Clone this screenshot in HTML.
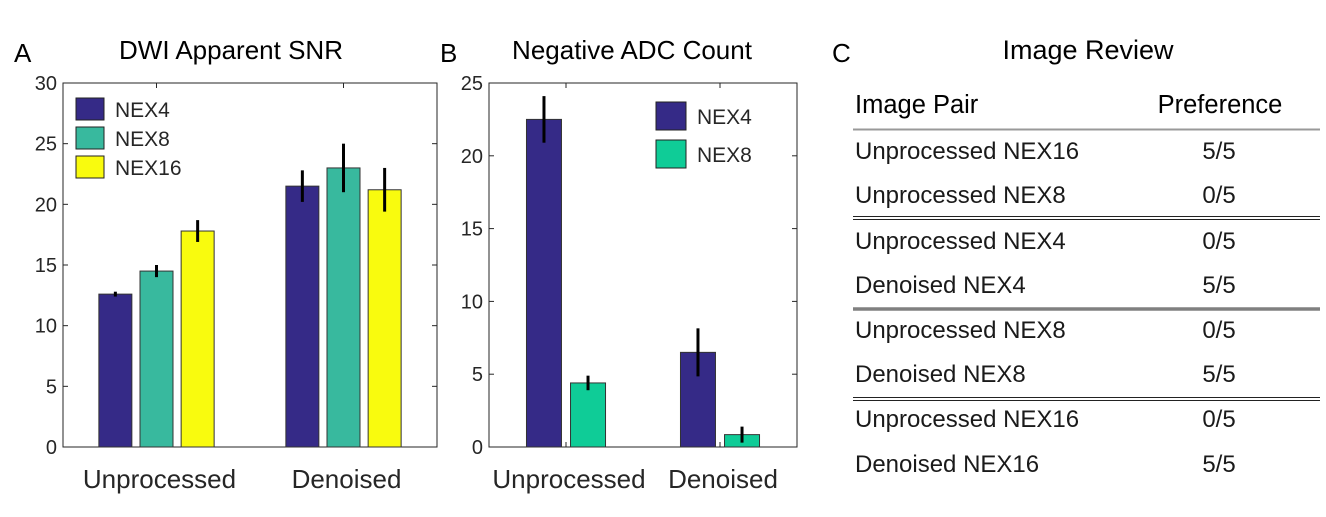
<!DOCTYPE html>
<html><head><meta charset="utf-8"><style>
body{margin:0;background:#fff;width:1326px;height:517px;overflow:hidden;font-family:"Liberation Sans",sans-serif}
svg{position:absolute;left:0;top:0}
</style></head><body>
<svg id="s" width="1326" height="517" xmlns="http://www.w3.org/2000/svg" font-family="Liberation Sans, sans-serif">
<text x="14" y="62" font-size="26">A</text>
<text x="231" y="59" font-size="26" text-anchor="middle">DWI Apparent SNR</text>
<text x="440" y="62" font-size="26">B</text>
<text x="632" y="59" font-size="26" text-anchor="middle">Negative ADC Count</text>
<text x="832" y="62" font-size="26">C</text>
<text x="1088" y="59" font-size="27" text-anchor="middle">Image Review</text>
<g id="ga"></g><g id="gb"></g><g id="gt"></g>
</svg>
<script>
// Chart A data
const catsA=["Unprocessed","Denoised"];
const seriesA=["NEX4","NEX8","NEX16"];
const nex4A=[12.6,21.5];
const nex8A=[14.5,23.0];
const nex16A=[17.8,21.2];
const errA4=[0.2,1.3];
const errA8=[0.5,2.0];
const errA16=[0.9,1.8];
const ticksA=[0,5,10,15,20,25,30];
// Chart B data
const catsB=["Unprocessed","Denoised"];
const seriesB=["NEX4","NEX8"];
const nex4B=[22.5,6.5];
const nex8B=[4.4,0.85];
const errB4=[1.6,1.65];
const errB8=[0.5,0.55];
const ticksB=[0,5,10,15,20,25];
// Table data
const pairs=["Unprocessed NEX16","Unprocessed NEX8","Unprocessed NEX4","Denoised NEX4","Unprocessed NEX8","Denoised NEX8","Unprocessed NEX16","Denoised NEX16"];
const prefs=["5/5","0/5","0/5","5/5","0/5","5/5","0/5","5/5"];

const NS="http://www.w3.org/2000/svg";
function mk(p,t,a){const e=document.createElementNS(NS,t);for(const k in a)e.setAttribute(k,a[k]);p.appendChild(e);return e;}

function chart(g,o){
  const {x0,x1,y0,y1,ymax,cats,series,vals,errs,colors,ticks,offs,bw,leg,name}=o;
  const X=c=>x0+(c-0.5)/2*(x1-x0);
  const Y=v=>y0-(v/ymax)*(y0-y1);
  const fr=mk(g,"rect",{x:x0,y:y1,width:x1-x0,height:y0-y1,fill:"none",stroke:"#262626","stroke-width":1});
  
  
  ticks.forEach(t=>{
    mk(g,"line",{x1:x0,x2:x0+5,y1:Y(t),y2:Y(t),stroke:"#262626"});
    mk(g,"line",{x1:x1,x2:x1-5,y1:Y(t),y2:Y(t),stroke:"#262626"});
    const tx=mk(g,"text",{x:x0-6,y:Y(t)+7,"font-size":20,"text-anchor":"end",fill:"#262626"});
    tx.textContent=t;
    
    
  });
  cats.forEach((c,i)=>{
    const cx=X(i+1);
    mk(g,"line",{x1:cx,x2:cx,y1:y0,y2:y0-5,stroke:"#262626"});
    mk(g,"line",{x1:cx,x2:cx,y1:y1,y2:y1+5,stroke:"#262626"});
    const tx=mk(g,"text",{x:cx+3,y:y0+41,"font-size":26,"text-anchor":"middle",fill:"#262626"});
    tx.textContent=c;
    
    
    series.forEach((s,j)=>{
      const v=vals[j][i],e=errs[j][i];
      const bx=X(i+1+offs[j])-bw/2;
      const r=mk(g,"rect",{x:bx,y:Y(v),width:bw,height:Y(0)-Y(v),fill:colors[j],stroke:"#333","stroke-width":1});
      
      
      const l=mk(g,"line",{x1:bx+bw/2,x2:bx+bw/2,y1:Y(v-e),y2:Y(v+e),stroke:"#000","stroke-width":3});
      
      
    });
  });
  series.forEach((s,j)=>{
    const r=mk(g,"rect",{x:leg.x,y:leg.y+j*leg.dy,width:leg.w,height:leg.h,fill:colors[j],stroke:"#222","stroke-width":1});
    
    
    const t=mk(g,"text",{x:leg.x+leg.w+11,y:leg.y+j*leg.dy+leg.h/2+8,"font-size":21,fill:"#262626"});
    t.textContent=s;
    
    
  });
}
chart(document.getElementById("ga"),{name:"chart-a",x0:63,x1:437,y0:447,y1:83,ymax:30,cats:catsA,series:seriesA,
  vals:[nex4A,nex8A,nex16A],errs:[errA4,errA8,errA16],colors:["#352a87","#38b99e","#f9fb0e"],ticks:ticksA,
  offs:[-0.22,0,0.22],bw:33,leg:{x:76,y:98,dy:29,w:28,h:22}});
chart(document.getElementById("gb"),{name:"chart-b",x0:489,x1:797,y0:447,y1:83,ymax:25,cats:catsB,series:seriesB,
  vals:[nex4B,nex8B],errs:[errB4,errB8],colors:["#352a87","#0fcc97"],ticks:ticksB,
  offs:[-0.143,0.143],bw:35,leg:{x:656,y:102,dy:38,w:30,h:28}});

// Table
const gt=document.getElementById("gt");
let h=mk(gt,"text",{x:855,y:113,"font-size":25.5});h.textContent="Image Pair";

h=mk(gt,"text",{x:1220,y:113,"font-size":25.5,"text-anchor":"middle"});h.textContent="Preference";

mk(gt,"line",{x1:853,x2:1320,y1:129.5,y2:129.5,stroke:"#999","stroke-width":2});
const rowY=[150,194,240,284,329,373,418,463];
pairs.forEach((p,i)=>{
  const t=mk(gt,"text",{x:855,y:rowY[i]+9,"font-size":24,fill:"#1a1a1a"});t.textContent=p;
  
  
  const v=mk(gt,"text",{x:1219,y:rowY[i]+9,"font-size":24,"text-anchor":"middle",fill:"#1a1a1a"});v.textContent=prefs[i];
  
  
});
[[216.5,219.5],[397.5,400.5]].forEach(a=>a.forEach(y=>mk(gt,"line",{x1:853,x2:1320,y1:y,y2:y,stroke:"#222","stroke-width":1})));
mk(gt,"line",{x1:853,x2:1320,y1:309,y2:309,stroke:"#808080","stroke-width":3.5});
</script>
</body></html>
